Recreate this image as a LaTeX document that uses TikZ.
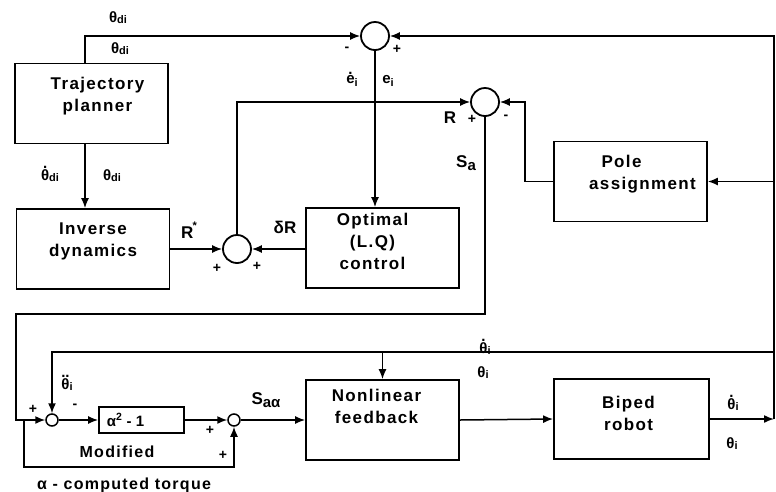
\documentclass[tikz,border=0pt]{standalone}
\usepackage{fontspec}
\setmainfont{Liberation Sans}
\newfontfamily\boxfont{Liberation Sans}[LetterSpace=8]
\usetikzlibrary{arrows.meta,calc}
\newcommand\dotacc[2][0.8em]{\ooalign{#2\cr\hidewidth\raisebox{#1}{.}\hidewidth\cr}}
\newcommand\ddotacc[2][0.8em]{\ooalign{#2\cr\hidewidth\raisebox{#1}{..}\hidewidth\cr}}
\newcommand\sbs[2][-1pt]{\raisebox{#1}{\fontsize{11}{11}\selectfont #2}}
\newcommand\btext[3]{\raisebox{#2}[0pt][0pt]{\makebox[0pt]{\kern#1\begin{tabular}{@{}c@{}}#3\end{tabular}\kern-#1}}}
\begin{document}
\begin{tikzpicture}[x=1pt,y=-1pt,line width=1.5pt,
  blk/.style={draw,line width=1.8pt,minimum width=153pt,minimum height=80pt,inner sep=0pt,
    font=\boxfont\bfseries\fontsize{17}{22}\selectfont},
  sumj/.style={draw,circle,line width=1.8pt,minimum size=28pt,inner sep=0pt},
  smj/.style={draw,circle,line width=1.5pt,minimum size=12pt,inner sep=0pt},
  lbl/.style={font=\bfseries\fontsize{15}{16}\selectfont,inner sep=0pt},
  big/.style={font=\bfseries\fontsize{17}{18}\selectfont,inner sep=0pt},
  sgn/.style={font=\bfseries\fontsize{14}{14}\selectfont,inner sep=0pt},
  wrd/.style={font=\boxfont\bfseries\fontsize{16}{18}\selectfont,inner sep=0pt},
  arr/.style={-{Latex[length=10pt,width=8pt]}}]
\useasboundingbox (0,0) rectangle (776,491);
% blocks
\node[blk] (traj) at (91.5,103.5) {\btext{6pt}{3pt}{Trajectory\\planner}};
\node[blk] (invdyn) at (93,249) {\btext{0pt}{4pt}{Inverse\\dynamics}};
\node[blk] (opt) at (382.5,248) {\btext{-10pt}{1pt}{Optimal\\(L.Q)\\control}};
\node[blk] (pole) at (630.5,181.5) {\btext{12pt}{3pt}{Pole\hspace*{42pt}\\assignment}};
\node[blk] (nf) at (382.5,420) {\btext{-6pt}{8pt}{Nonlinear\\feedback}};
\node[blk,minimum width=155pt] (biped) at (631.5,419) {\btext{-3pt}{0pt}{Biped\\robot}};
\node[draw,line width=1.8pt,minimum width=85pt,minimum height=26pt,inner sep=0pt,
  font=\bfseries\fontsize{15}{15}\selectfont] (alpha) at (141.5,420) {\makebox[0pt]{\kern-16pt α\textsuperscript{2} - 1\kern16pt}};
% junctions
\node[sumj] (J1) at (375,36) {};
\node[sumj] (J2) at (485,102) {};
\node[sumj] (J3) at (237,249) {};
\node[smj] (J4) at (52,420) {};
\node[smj] (J5) at (234,420) {};
% coordinates
\coordinate (tl) at (85,36);
\coordinate (tr) at (774,36);
\coordinate (fbR) at (774,352);
\coordinate (fbL) at (52,352);
\coordinate (lc) at (16,314);
\coordinate (br) at (24,420);
\coordinate (bb) at (24,467);
% connectors
\draw[arr] (traj.north -| tl) -- (tl) -- (J1.west);
\draw[arr] (biped.east -| tr) -- (tr) -- (J1.east);
\draw[arr] (biped.east) -- (biped.east -| tr);
\draw[arr] (pole.east -| tr) -- (pole.east);
\draw[arr] (fbR) -- (fbL) -- (J4.north);
\draw[arr] (nf.north |- fbR) -- (nf.north);
\draw[arr] (J1.south) -- (J1.south |- opt.north);
\draw[arr] (J3.north) -- (J3.north |- J2) -- (J2.west);
\draw[arr] (pole.west) -- ++(-28,0) |- (J2.east);
\draw[arr] (J2.south) |- (lc) |- (J4.west);
\draw[arr] (invdyn.east |- J3) -- (J3.west);
\draw[arr] (opt.west |- J3) -- (J3.east);
\draw[arr] (traj.south -| tl) -- (invdyn.north -| tl);
\draw[arr] (J4.east) -- (alpha.west);
\draw[arr] (alpha.east) -- (J5.west);
\draw[arr] (br) -- (bb) -| (J5.south);
\draw[arr] (J5.east) -- (nf.west);
\draw[arr] (nf.east) -- (biped.west);
% labels
\node[lbl] (l1) at (118,18) {θ\sbs{di}};
\node[lbl] (l2) at (120,49) {θ\sbs{di}};
\node[lbl] (l3) at (50,176) {\dotacc{θ}\sbs{di}};
\node[lbl] (l4) at (112,176) {θ\sbs{di}};
\node[lbl] (l5) at (352,81) {\dotacc[0.6em]{e}\sbs[-3pt]{i}};
\node[lbl] (l6) at (388,81) {e\sbs[-3pt]{i}};
\node[sgn] (s1) at (347,49) {-};
\node[sgn] (s2) at (397,49) {+};
\node[big] (l7) at (450,118) {R};
\node[sgn] (s3) at (472,119) {+};
\node[sgn] (s4) at (506,117) {-};
\node[big] (l8) at (466,163) {S\sbs[-3pt]{\fontsize{15}{15}\selectfont a}};
\node[big] (l9) at (189,230) {R\kern-1pt\raisebox{9pt}{\fontsize{11}{11}\selectfont *}};
\node[sgn] (s5) at (217,268) {+};
\node[sgn] (s6) at (257,266) {+};
\node[big] (l10) at (285,227) {δR};
\node[lbl] (l11) at (485,349) {\dotacc{θ}\sbs{i}};
\node[lbl] (l12) at (483,373) {θ\sbs{i}};
\node[lbl] (l13) at (67,385) {\ddotacc{θ}\sbs{i}};
\node[sgn] (s7) at (75,406) {-};
\node[sgn] (s8) at (33,409) {+};
\node[sgn] (s9) at (210,430) {+};
\node[sgn] (s10) at (223,455) {+};
\node[big] (l14) at (266,400) {S\sbs[-3pt]{\fontsize{15}{15}\selectfont aα}};
\node[lbl] (l15) at (733,405) {\dotacc{θ}\sbs{i}};
\node[lbl] (l16) at (732,444) {θ\sbs{i}};
\node[wrd] (l17) at (117,452) {Modified};
\node[wrd] (l18) at (124,485) {α - computed torque};
\end{tikzpicture}
\end{document}
